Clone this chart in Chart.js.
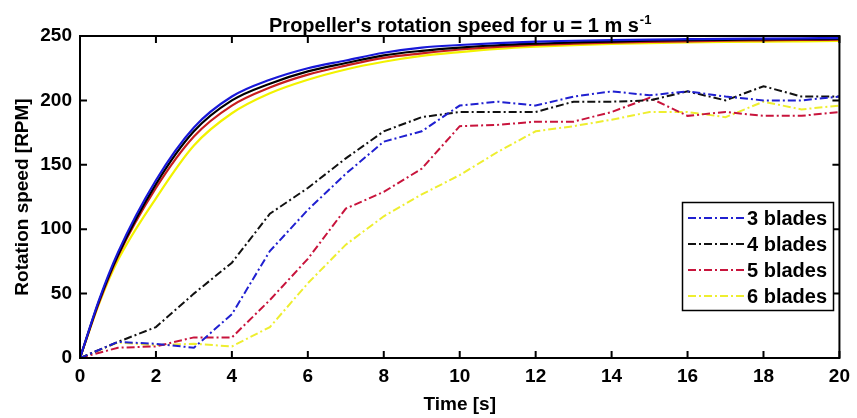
<!DOCTYPE html>
<html>
<head>
<meta charset="utf-8">
<script src="https://cdn.jsdelivr.net/npm/chart.js@4/dist/chart.umd.min.js"></script>
<style>
  html, body { margin: 0; padding: 0; background: #fff; }
  canvas { display: block; }
</style>
</head>
<body>
<canvas id="speedChart" width="857" height="418"></canvas>
<script>
// model curves (solid lines)
const modelTime = [0, 0.5, 1, 2, 3, 4, 5, 6, 7, 8, 9, 10, 11, 12, 13, 14, 15, 16, 17, 18, 19, 20];
const model3 = [0, 45, 82, 138, 179, 203, 216, 225, 231, 237, 241, 243, 244.5, 245.6, 246.3, 246.8, 247.2, 247.5, 247.8, 248, 248.2, 248.4];
const model4 = [0, 44, 80, 135, 176, 200, 213, 222.5, 229, 235, 238.5, 241, 242.8, 244, 245, 245.7, 246.3, 246.7, 247, 247.3, 247.5, 247.7];
const model5 = [0, 43, 79, 132, 172, 196, 210, 220, 227, 233, 236.5, 239.5, 241.5, 243, 244, 244.8, 245.4, 245.9, 246.3, 246.6, 246.9, 247.1];
const model6 = [0, 42, 76, 124, 165, 190, 205.5, 216, 224, 230, 234.5, 237.5, 240, 241.7, 242.9, 243.8, 244.5, 245, 245.4, 245.7, 245.9, 246.1];

// measured (dash-dot lines)
const measTime = [0, 1, 2, 3, 4, 5, 6, 7, 8, 9, 10, 11, 12, 13, 14, 15, 16, 17, 18, 19, 20];
const meas3 = [0, 12.5, 11, 8, 34, 83, 115, 143, 168, 176, 196, 199, 196, 203, 207, 204, 207, 203, 200, 200, 203];
const meas4 = [0, 12.5, 24, 50, 74, 112, 132, 155, 176, 187, 191, 191, 191, 199, 199, 200, 207, 200, 211, 203, 203];
const meas5 = [0, 8, 9, 16, 16, 45, 77, 116, 129, 147, 180, 181, 183.5, 183.5, 191, 202, 188, 191, 188, 188, 191];
const meas6 = [0, 12, 10, 11, 9, 24, 58, 88, 110, 127, 142, 160, 176, 180, 185, 191, 191, 187, 199, 193, 196];

const seriesNames = ['3 blades', '4 blades', '5 blades', '6 blades'];
const xTicks = [0, 2, 4, 6, 8, 10, 12, 14, 16, 18, 20];
const yTicks = [0, 50, 100, 150, 200, 250];

const solidColors = ['#1818d8', '#000000', '#c81e1e', '#f2f200'];
const dashColors = ['#2020d0', '#111111', '#c8143c', '#eeee30'];
const dashDot = [8, 3, 2, 3];
const FONT = '"Liberation Sans", Arial, sans-serif';

function points(xs, ys) {
    return xs.map((x, i) => ({ x: x, y: ys[i] }));
}

const measured = [meas3, meas4, meas5, meas6];
const models = [model3, model4, model5, model6];

const datasets = [];
models.forEach((m, i) => {
    datasets.push({
        label: 'model ' + seriesNames[i],
        data: points(modelTime, m),
        borderColor: solidColors[i],
        borderWidth: 2.2,
        pointRadius: 0,
        cubicInterpolationMode: 'monotone',
        fill: false
    });
});
measured.forEach((m, i) => {
    datasets.push({
        label: seriesNames[i],
        data: points(measTime, m),
        borderColor: dashColors[i],
        borderWidth: 2,
        borderDash: dashDot,
        pointRadius: 0,
        tension: 0,
        fill: false
    });
});

const framePlugin = {
    id: 'frame',
    afterDraw(chart) {
        const ctx = chart.ctx;
        const a = chart.chartArea;
        const xs = chart.scales.x, ys = chart.scales.y;
        ctx.save();
        ctx.strokeStyle = '#000';
        ctx.lineWidth = 2;
        ctx.strokeRect(a.left, a.top, a.right - a.left, a.bottom - a.top);
        ctx.beginPath();
        const tl = 7;
        for (const t of xTicks) {
            const px = xs.getPixelForValue(t);
            ctx.moveTo(px, a.bottom); ctx.lineTo(px, a.bottom - tl);
            ctx.moveTo(px, a.top); ctx.lineTo(px, a.top + tl);
        }
        for (const t of yTicks) {
            const py = ys.getPixelForValue(t);
            ctx.moveTo(a.left, py); ctx.lineTo(a.left + tl, py);
            ctx.moveTo(a.right, py); ctx.lineTo(a.right - tl, py);
        }
        ctx.stroke();

        // title with superscript
        const main = "Propeller's rotation speed for u = 1 m s";
        const sup = '-1';
        ctx.fillStyle = '#000';
        ctx.textBaseline = 'alphabetic';
        ctx.textAlign = 'left';
        ctx.font = 'bold 20px ' + FONT;
        const w1 = ctx.measureText(main).width;
        ctx.font = 'bold 13px ' + FONT;
        const w2 = ctx.measureText(sup).width;
        const cx = (a.left + a.right) / 2;
        const x0 = cx - (w1 + w2) / 2;
        ctx.font = 'bold 20px ' + FONT;
        ctx.fillText(main, x0, 32);
        ctx.font = 'bold 13px ' + FONT;
        ctx.fillText(sup, x0 + w1 + 1, 24);

        // legend box inside the plot
        const bx = 682.5, by = 202.5, bw = 151, bh = 108;
        ctx.fillStyle = '#fff';
        ctx.fillRect(bx, by, bw, bh);
        ctx.lineWidth = 1.5;
        ctx.strokeStyle = '#000';
        ctx.strokeRect(bx, by, bw, bh);
        ctx.font = 'bold 20px ' + FONT;
        ctx.textBaseline = 'middle';
        seriesNames.forEach((name, i) => {
            const ry = 218 + i * 26;
            ctx.save();
            ctx.strokeStyle = dashColors[i];
            ctx.lineWidth = 2;
            ctx.setLineDash(dashDot);
            ctx.beginPath();
            ctx.moveTo(688, ry);
            ctx.lineTo(744, ry);
            ctx.stroke();
            ctx.restore();
            ctx.fillStyle = '#000';
            ctx.fillText(name, 747, ry + 1);
        });
        ctx.restore();
    }
};

const speedChart = new Chart(
    document.getElementById('speedChart'),
    {
        type: 'line',
        data: { datasets: datasets },
        options: {
            responsive: false,
            animation: false,
            layout: { padding: { top: 36, right: 12, left: 0, bottom: 0 } },
            plugins: {
                legend: { display: false },
                tooltip: { enabled: false },
                title: { display: false }
            },
            scales: {
                x: {
                    type: 'linear',
                    min: 0,
                    max: 20,
                    grid: { display: false, drawTicks: false },
                    border: { display: false },
                    afterBuildTicks: (scale) => { scale.ticks = xTicks.map(v => ({ value: v })); },
                    afterFit: (scale) => { scale.height = 60; },
                    ticks: {
                        color: '#000',
                        padding: 7,
                        maxRotation: 0,
                        font: { family: FONT, size: 19, weight: 'bold' }
                    },
                    title: {
                        display: true,
                        text: 'Time [s]',
                        color: '#000',
                        padding: { top: 2, bottom: 2 },
                        font: { family: FONT, size: 19, weight: 'bold' }
                    }
                },
                y: {
                    type: 'linear',
                    min: 0,
                    max: 250,
                    grid: { display: false, drawTicks: false },
                    border: { display: false },
                    afterBuildTicks: (scale) => { scale.ticks = yTicks.map(v => ({ value: v })); },
                    afterFit: (scale) => { scale.width = 80; },
                    ticks: {
                        color: '#000',
                        padding: 8,
                        font: { family: FONT, size: 19, weight: 'bold' }
                    },
                    title: {
                        display: true,
                        text: 'Rotation speed [RPM]',
                        color: '#000',
                        padding: { top: 11, bottom: 0 },
                        font: { family: FONT, size: 19, weight: 'bold' }
                    }
                }
            }
        },
        plugins: [framePlugin]
    }
);
</script>
</body>
</html>
